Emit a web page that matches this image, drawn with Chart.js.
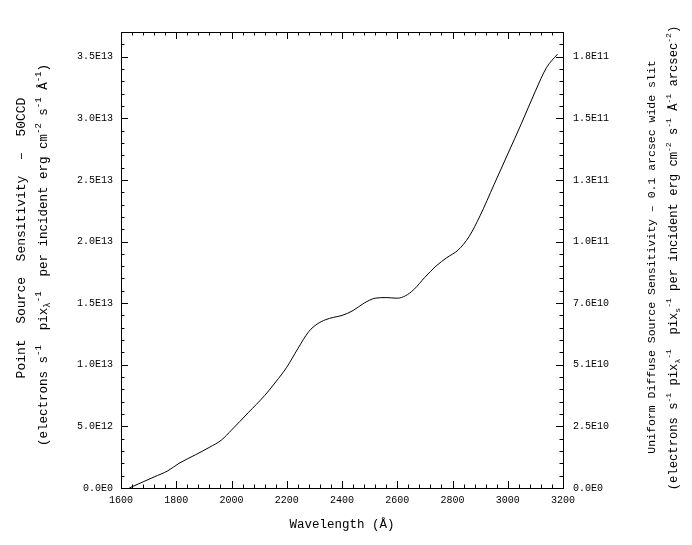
<!DOCTYPE html>
<html>
<head>
<meta charset="utf-8">
<script src="https://cdn.jsdelivr.net/npm/chart.js@4.4.1/dist/chart.umd.min.js"></script>
<style>
  body { margin: 0; background: #fff; }
  #wrap { width: 692px; height: 545px; position: relative; }
</style>
</head>
<body>
<div id="wrap"><canvas id="sensChart"></canvas></div>
<script>
// ---------- DATA ----------
const wavelength = [1630, 1680, 1720, 1770, 1810, 1870, 1920, 1964, 2000, 2060, 2120, 2160, 2200, 2240, 2280, 2310, 2340, 2370, 2400, 2440, 2480, 2520, 2560, 2600, 2630, 2660, 2700, 2740, 2780, 2820, 2860, 2900, 2950, 3000, 3050, 3100, 3140, 3180];
const sensitivity = [0, 0.05e13, 0.09e13, 0.14e13, 0.20e13, 0.27e13, 0.33e13, 0.39e13, 0.47e13, 0.61e13, 0.75e13, 0.86e13, 0.98e13, 1.13e13, 1.27e13, 1.33e13, 1.365e13, 1.385e13, 1.40e13, 1.44e13, 1.50e13, 1.54e13, 1.545e13, 1.54e13, 1.56e13, 1.61e13, 1.71e13, 1.80e13, 1.87e13, 1.93e13, 2.04e13, 2.21e13, 2.46e13, 2.71e13, 2.96e13, 3.22e13, 3.41e13, 3.52e13];

const xTickValues = [1600, 1800, 2000, 2200, 2400, 2600, 2800, 3000, 3200];
const leftTickLabels = ["0.0E0", "5.0E12", "1.0E13", "1.5E13", "2.0E13", "2.5E13", "3.0E13", "3.5E13"];
const rightTickLabels = ["0.0E0", "2.5E10", "5.1E10", "7.6E10", "1.0E11", "1.3E11", "1.5E11", "1.8E11"];

const xTitle = [["Wavelength (Å)", 0]];
// text pieces: 0 = normal, 1 = superscript, 2 = subscript
const leftTitle1 = [["Point  Source  Sensitivity  –  50CCD", 0]];
const leftTitle2 = [["(electrons s", 0], ["-1", 1], ["  pix", 0], ["λ", 2], ["-1", 1], ["  per incident erg cm", 0], ["-2", 1], [" s", 0], ["-1", 1], [" Å", 0], ["-1", 1], [")", 0]];
const rightTitle1 = [["Uniform Diffuse Source Sensitivity – 0.1 arcsec wide slit", 0]];
const rightTitle2 = [["(electrons s", 0], ["-1", 1], [" pix", 0], ["λ", 2], ["-1", 1], ["  pix", 0], ["s", 2], ["-1", 1], [" per incident erg cm", 0], ["-2", 1], [" s", 0], ["-1", 1], [" Å", 0], ["-1", 1], [" arcsec", 0], ["-2", 1], [")", 0]];

const STEP_Y = 5e12;
const FONT = "'Liberation Mono', 'DejaVu Sans Mono', monospace";

// ---------- RICH TEXT (super/subscripts) ----------
function drawRich(ctx, cx, cy, parts, size, rotate) {
  ctx.save();
  ctx.translate(cx, cy);
  if (rotate) ctx.rotate(-Math.PI / 2);
  const fontFor = (k) => (k === 0 ? size : Math.round(size * 0.68)) + "px " + FONT;
  let total = 0;
  parts.forEach(([t, k]) => { ctx.font = fontFor(k); total += ctx.measureText(t).width; });
  let x = -total / 2;
  ctx.fillStyle = "#000";
  ctx.textBaseline = "middle";
  ctx.textAlign = "left";
  parts.forEach(([t, k]) => {
    ctx.font = fontFor(k);
    const dy = k === 1 ? -size * 0.45 : (k === 2 ? size * 0.3 : 0);
    ctx.fillText(t, x, dy);
    x += ctx.measureText(t).width;
  });
  ctx.restore();
}

// ---------- FRAME, INWARD TICKS, TITLES ----------
const framePlugin = {
  id: "frame",
  afterDraw(chart) {
    const { ctx, chartArea: a, scales } = chart;
    ctx.save();
    ctx.strokeStyle = "#000";
    ctx.lineWidth = 1;
    ctx.strokeRect(a.left + 0.5, a.top + 0.5, a.right - a.left, a.bottom - a.top);

    ctx.beginPath();
    // x ticks, bottom and top
    for (let v = scales.x.min; v <= scales.x.max; v += 40) {
      const px = Math.round(scales.x.getPixelForValue(v)) + 0.5;
      const len = v % 200 === 0 ? 7 : 3.5;
      ctx.moveTo(px, a.bottom); ctx.lineTo(px, a.bottom - len);
      ctx.moveTo(px, a.top); ctx.lineTo(px, a.top + len);
    }
    // y ticks, left and right
    for (let v = 0; v <= scales.y.max; v += STEP_Y / 5) {
      const py = Math.round(scales.y.getPixelForValue(v)) + 0.5;
      const major = Math.abs(v / STEP_Y - Math.round(v / STEP_Y)) < 1e-6;
      const len = major ? 7 : 3.5;
      ctx.moveTo(a.left, py); ctx.lineTo(a.left + len, py);
      ctx.moveTo(a.right, py); ctx.lineTo(a.right - len, py);
    }
    ctx.stroke();
    ctx.restore();

    drawRich(ctx, (a.left + a.right) / 2, 525, xTitle, 12.5, false);
    drawRich(ctx, 22, 238, leftTitle1, 13, true);
    drawRich(ctx, 44, 255, leftTitle2, 12.5, true);
    drawRich(ctx, 652, 257, rightTitle1, 11.5, true);
    drawRich(ctx, 674, 258, rightTitle2, 12.2, true);
  }
};

// ---------- CHART ----------
const tickFont = { family: FONT, size: 10 };
const ctx = document.getElementById("sensChart").getContext("2d");
new Chart(ctx, {
  type: "line",
  data: {
    datasets: [{
      data: wavelength.map((w, i) => ({ x: w, y: sensitivity[i] })),
      borderColor: "#000",
      borderWidth: 1,
      pointRadius: 0,
      fill: false,
      cubicInterpolationMode: "monotone"
    }]
  },
  options: {
    responsive: true,
    maintainAspectRatio: false,
    animation: false,
    layout: { padding: { top: 32, left: 0, right: 0, bottom: 0 } },
    plugins: { legend: { display: false }, tooltip: { enabled: false } },
    scales: {
      x: {
        type: "linear",
        min: 1600, max: 3200,
        afterBuildTicks: (s) => { s.ticks = xTickValues.map((v) => ({ value: v })); },
        afterFit: (s) => { s.height = 57; },
        ticks: { color: "#000", font: tickFont, padding: 6, maxRotation: 0, callback: (v) => String(v) },
        grid: { drawOnChartArea: false, drawTicks: false },
        border: { display: true, color: "#000" }
      },
      y: {
        type: "linear",
        position: "left",
        min: 0, max: 3.7e13,
        afterBuildTicks: (s) => { s.ticks = leftTickLabels.map((_, i) => ({ value: i * STEP_Y })); },
        afterFit: (s) => { s.width = 121; },
        ticks: { color: "#000", font: tickFont, padding: 8, callback: (v) => leftTickLabels[Math.round(v / STEP_Y)] },
        grid: { drawOnChartArea: false, drawTicks: false },
        border: { display: true, color: "#000" }
      },
      y2: {
        type: "linear",
        position: "right",
        min: 0, max: 3.7e13,
        afterBuildTicks: (s) => { s.ticks = rightTickLabels.map((_, i) => ({ value: i * STEP_Y })); },
        afterFit: (s) => { s.width = 129; },
        ticks: { color: "#000", font: tickFont, padding: 10, callback: (v) => rightTickLabels[Math.round(v / STEP_Y)] },
        grid: { drawOnChartArea: false, drawTicks: false },
        border: { display: true, color: "#000" }
      }
    }
  },
  plugins: [framePlugin]
});
</script>
</body>
</html>
